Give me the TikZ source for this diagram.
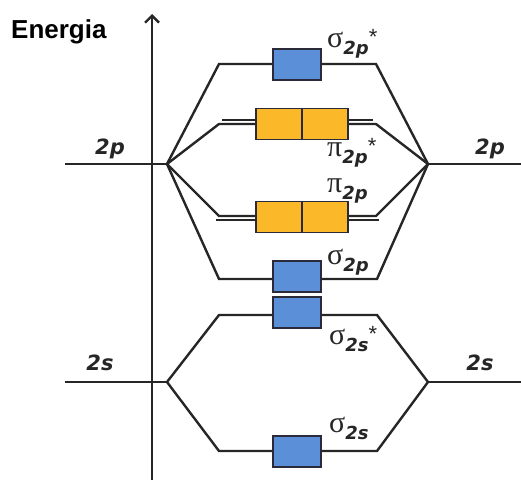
\documentclass[tikz,border=0pt]{standalone}
\usepackage{fontspec}
\setmainfont{Liberation Sans}
\newfontfamily\grk{Liberation Serif}
\newfontfamily\lblfont{DejaVu Sans}
\usetikzlibrary{arrows.meta}
\definecolor{sblue}{HTML}{5B8FD8}
\definecolor{syel}{HTML}{FBB829}
\definecolor{bedge}{HTML}{2A2A3A}
\tikzset{
  lvl/.style={line width=2.4pt, black!85},
  orbbox/.style={draw=bedge, line width=1.3pt, minimum width=48pt, minimum height=31pt, inner sep=0pt},
  sbox/.style={orbbox, fill=sblue},
  ybox/.style={orbbox, fill=syel, minimum width=46pt},
  aolab/.style={font=\lblfont\fontsize{21}{21}\selectfont\bfseries\itshape, text=black!85},
  molab/.style={anchor=west, inner sep=0pt, text=black!85}
}
\newcommand{\molabel}[3]{{\grk\fontsize{30}{30}\selectfont #1}\raisebox{-7pt}{\lblfont\fontsize{18}{18}\selectfont\bfseries\itshape #2}\raisebox{3pt}{\fontsize{22}{22}\selectfont #3}}
\begin{document}
\begin{tikzpicture}[x=1pt,y=-1pt]
\useasboundingbox (0,0) rectangle (521,482);
% axis
\coordinate (axb) at (152,480);
\coordinate (axt) at (152,14);
\draw[line width=2.8pt, black!85, -{Straight Barb[length=7pt,width=14pt,line width=2.4pt]}] (axb) -- (axt);
\node[font=\fontsize{26}{26}\selectfont\bfseries, anchor=west, inner sep=0pt] (en) at (11,32) {Energia};
% atomic levels
\coordinate (p1) at (65,164); \coordinate (pa) at (167,164);
\coordinate (pb) at (428,164); \coordinate (p2) at (521,164);
\coordinate (s1) at (65,382); \coordinate (sa) at (167,382);
\coordinate (sb) at (428,382); \coordinate (s2) at (521,382);
\draw[lvl] (p1) -- (pa); \draw[lvl] (pb) -- (p2);
\draw[lvl] (s1) -- (sa); \draw[lvl] (sb) -- (s2);
\node[aolab] (l2p) at (110,149) {2p};
\node[aolab] (r2p) at (490,149) {2p};
\node[aolab] (l2s) at (100,363) {2s};
\node[aolab] (r2s) at (480,363) {2s};
% molecular orbital boxes
\node[sbox] (sps) at (297,64.5) {};
\node[ybox] (pps1) at (279,124) {};
\node[ybox] (pps2) at (325,124) {};
\node[ybox] (pp1) at (279,217) {};
\node[ybox] (pp2) at (325,217) {};
\node[sbox] (sp) at (297,276.5) {};
\node[sbox] (sss) at (297,312.5) {};
\node[sbox] (ss) at (297,451.5) {};
% corners
\coordinate (c1l) at (219,64); \coordinate (c1r) at (376,64);
\coordinate (c2l) at (219,124); \coordinate (c2r) at (376,124);
\coordinate (c3l) at (219,216); \coordinate (c3r) at (376,216);
\coordinate (c4l) at (219,279); \coordinate (c4r) at (377,279);
\coordinate (c5l) at (219,315); \coordinate (c5r) at (377,315);
\coordinate (c6l) at (219,451); \coordinate (c6r) at (377,451);
% sigma 2p*
\draw[lvl] (pa) -- (c1l) -- (sps.west |- c1l);
\draw[lvl] (pb) -- (c1r) -- (sps.east |- c1r);
% pi 2p*
\draw[lvl] (pa) -- (c2l) -- (pps1.west |- c2l);
\draw[lvl] (pb) -- (c2r) -- (pps2.east |- c2r);
\draw[line width=1.4pt, black!85] ([yshift=4pt]c2l) ++(3,0) -- ([yshift=4pt]pps1.west |- c2l);
\draw[line width=1.4pt, black!85] ([yshift=4pt]c2r) ++(-3,0) -- ([yshift=4pt]pps2.east |- c2r);
% pi 2p
\draw[lvl] (pa) -- (c3l) -- (pp1.west |- c3l);
\draw[lvl] (pb) -- (c3r) -- (pp2.east |- c3r);
\draw[line width=1.4pt, black!85] ([yshift=-4pt]c3l) ++(-3,0) -- ([yshift=-4pt]pp1.west |- c3l);
\draw[line width=1.4pt, black!85] ([yshift=-4pt]c3r) ++(3,0) -- ([yshift=-4pt]pp2.east |- c3r);
% sigma 2p
\draw[lvl] (pa) -- (c4l) -- (sp.west |- c4l);
\draw[lvl] (pb) -- (c4r) -- (sp.east |- c4r);
% sigma 2s*
\draw[lvl] (sa) -- (c5l) -- (sss.west |- c5l);
\draw[lvl] (sb) -- (c5r) -- (sss.east |- c5r);
% sigma 2s
\draw[lvl] (sa) -- (c6l) -- (ss.west |- c6l);
\draw[lvl] (sb) -- (c6r) -- (ss.east |- c6r);
% redraw boxes on top
\node[sbox] at (sps) {};
\node[ybox] at (pps1) {}; \node[ybox] at (pps2) {};
\node[ybox] at (pp1) {}; \node[ybox] at (pp2) {};
\node[sbox] at (sp) {}; \node[sbox] at (sss) {}; \node[sbox] at (ss) {};
% labels
\node[molab] (lsps) at (327,44) {\molabel{σ}{2p}{*}};
\node[molab] (lpps) at (327,153) {\molabel{π}{2p}{*}};
\node[molab] (lpp) at (327,191) {\molabel{π}{2p}{}};
\node[molab] (lsp) at (327,262) {\molabel{σ}{2p}{}};
\node[molab] (lsss) at (329,339) {\molabel{σ}{2s}{*}};
\node[molab] (lss) at (329,428) {\molabel{σ}{2s}{}};
\end{tikzpicture}
\end{document}
